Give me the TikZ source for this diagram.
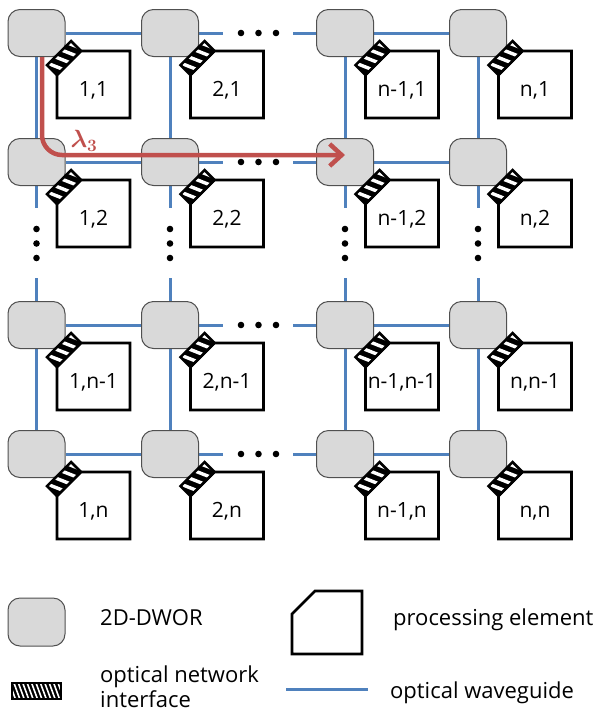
\documentclass[tikz,border=0pt]{standalone}
\usepackage{fontspec}
\setmainfont{Open Sans}
\usepackage{amsmath,bm}
\usetikzlibrary{calc,arrows.meta,backgrounds}
\definecolor{wgblue}{HTML}{4F81BD}
\definecolor{lamred}{HTML}{C0504D}
\definecolor{dworfill}{HTML}{D9D9D9}
\definecolor{dworline}{HTML}{505050}
\newcommand\hatchbox[8]{%
  \node[fill=black, inner sep=0pt, outer sep=0pt, minimum width=#4, minimum height=#5, rotate=#3] (#1) at #2 {};
  \begin{scope}
    \clip (#1.north west) -- (#1.north east) -- (#1.south east) -- (#1.south west) -- cycle;
    \foreach \k in {0,...,20}{%
      \pgfmathsetmacro\ta{\k*#6-0.5}%
      \pgfmathsetmacro\tb{\ta+#8}%
      \draw[white, line width=#7] ($(#1.north west)!\ta!(#1.north east)$) -- ($(#1.south west)!\tb!(#1.south east)$);
    }
  \end{scope}
  \draw[black, line width=2.6pt, line join=miter] (#1.north west) -- (#1.north east) -- (#1.south east) -- (#1.south west) -- cycle;
}
\begin{document}
\begin{tikzpicture}[x=1pt,y=-1pt,
  dwor/.style={draw=dworline, line width=1pt, fill=dworfill, rounded corners=12pt,
    minimum width=57pt, minimum height=47pt, inner sep=0pt},
  wg/.style={draw=wgblue, line width=3pt},
  pebox/.style={draw=black, line width=2.8pt, line join=miter},
  pe/.style={inner sep=0pt, outer sep=0pt, minimum width=73pt, minimum height=67pt,
    font=\fontsize{21}{25}\selectfont, text height=23pt, text depth=0pt},
  gapdot/.style={fill=black},
  redpath/.style={draw=lamred, line width=4.5pt, rounded corners=20pt,
    -{Straight Barb[length=12pt, width=22pt]}},
  lamlabel/.style={text=lamred, font=\fontsize{25}{28}\selectfont, inner sep=0pt},
  legtext/.style={font=\fontsize{22}{26}\selectfont, inner sep=0pt, anchor=base west}
]
\useasboundingbox (0,0) rectangle (600,713);

% routers, processing elements, interfaces
\foreach \i/\x/\a in {1/36.5/1,2/170/2,3/345/n-1,4/478/n}{
  \foreach \j/\y/\b in {1/33/1,2/162/2,3/325/n-1,4/454/n}{
    \node[dwor] (r-\i-\j) at (\x,\y) {};
    \node[pe] (p-\i-\j) at (\x+57,\y+51.5) {\a,\b};
    \draw[pebox] ($(p-\i-\j.north west)+(0,24)$) -- ($(p-\i-\j.north west)+(24,0)$)
      -- (p-\i-\j.north east) -- (p-\i-\j.south east) -- (p-\i-\j.south west) -- cycle;
    \hatchbox{o-\i-\j}{(\x+27.5,\y+25)}{45}{34pt}{14pt}{0.28}{3.4pt}{0.18}
  }
}

% waveguides
\begin{scope}[on background layer]
  \foreach \j/\y in {1/33,2/162,3/325,4/454}{
    \coordinate (hg-\j-a) at (223,\y);
    \coordinate (hg-\j-b) at (293,\y);
    \draw[wg] (r-1-\j) -- (r-2-\j);
    \draw[wg] (r-2-\j) -- (hg-\j-a);
    \draw[wg] (hg-\j-b) -- (r-3-\j);
    \draw[wg] (r-3-\j) -- (r-4-\j);
    \foreach \d in {241,258.5,276} \fill[gapdot] (\d,\y) circle (3.3);
  }
  \foreach \i/\x in {1/36.5,2/170,3/345,4/478}{
    \coordinate (vg-\i-a) at (\x,208);
    \coordinate (vg-\i-b) at (\x,278);
    \draw[wg] (r-\i-1) -- (r-\i-2);
    \draw[wg] (r-\i-2) -- (vg-\i-a);
    \draw[wg] (vg-\i-b) -- (r-\i-3);
    \draw[wg] (r-\i-3) -- (r-\i-4);
    \foreach \d in {229,243.5,258} \fill[gapdot] (\x,\d) circle (3.3);
  }
\end{scope}

% lambda_3 route
\draw[redpath] ($(r-1-1.south)+(5.5,0)$) |- ($(r-3-2.center)+(0,-7)$);
\node[lamlabel] (lam) at (84,141) {$\bm{\lambda_3}$};

% legend
\node[dwor, minimum height=48pt] (lg-dwor) at (36.5,622) {};
\node[legtext] (lt-dwor) at (100,625) {2D-DWOR};
\node[inner sep=0pt, outer sep=0pt, minimum width=70pt, minimum height=63pt] (lg-pe) at (327,622.5) {};
\draw[pebox] ($(lg-pe.north west)+(0,23)$) -- ($(lg-pe.north west)+(23,0)$)
  -- (lg-pe.north east) -- (lg-pe.south east) -- (lg-pe.south west) -- cycle;
\node[legtext] (lt-pe) at (393,625) {processing element};
\hatchbox{lg-oni}{(36.5,691)}{0}{49pt}{16pt}{0.09}{1.6pt}{0.12}
\node[legtext] (lt-oni1) at (100,682) {optical network};
\node[legtext] (lt-oni2) at (100,707) {interface};
\coordinate (lg-wg-a) at (286,689);
\coordinate (lg-wg-b) at (368,689);
\draw[wg] (lg-wg-a) -- (lg-wg-b);
\node[legtext] (lt-wg) at (390,698) {optical waveguide};
\end{tikzpicture}
\end{document}
